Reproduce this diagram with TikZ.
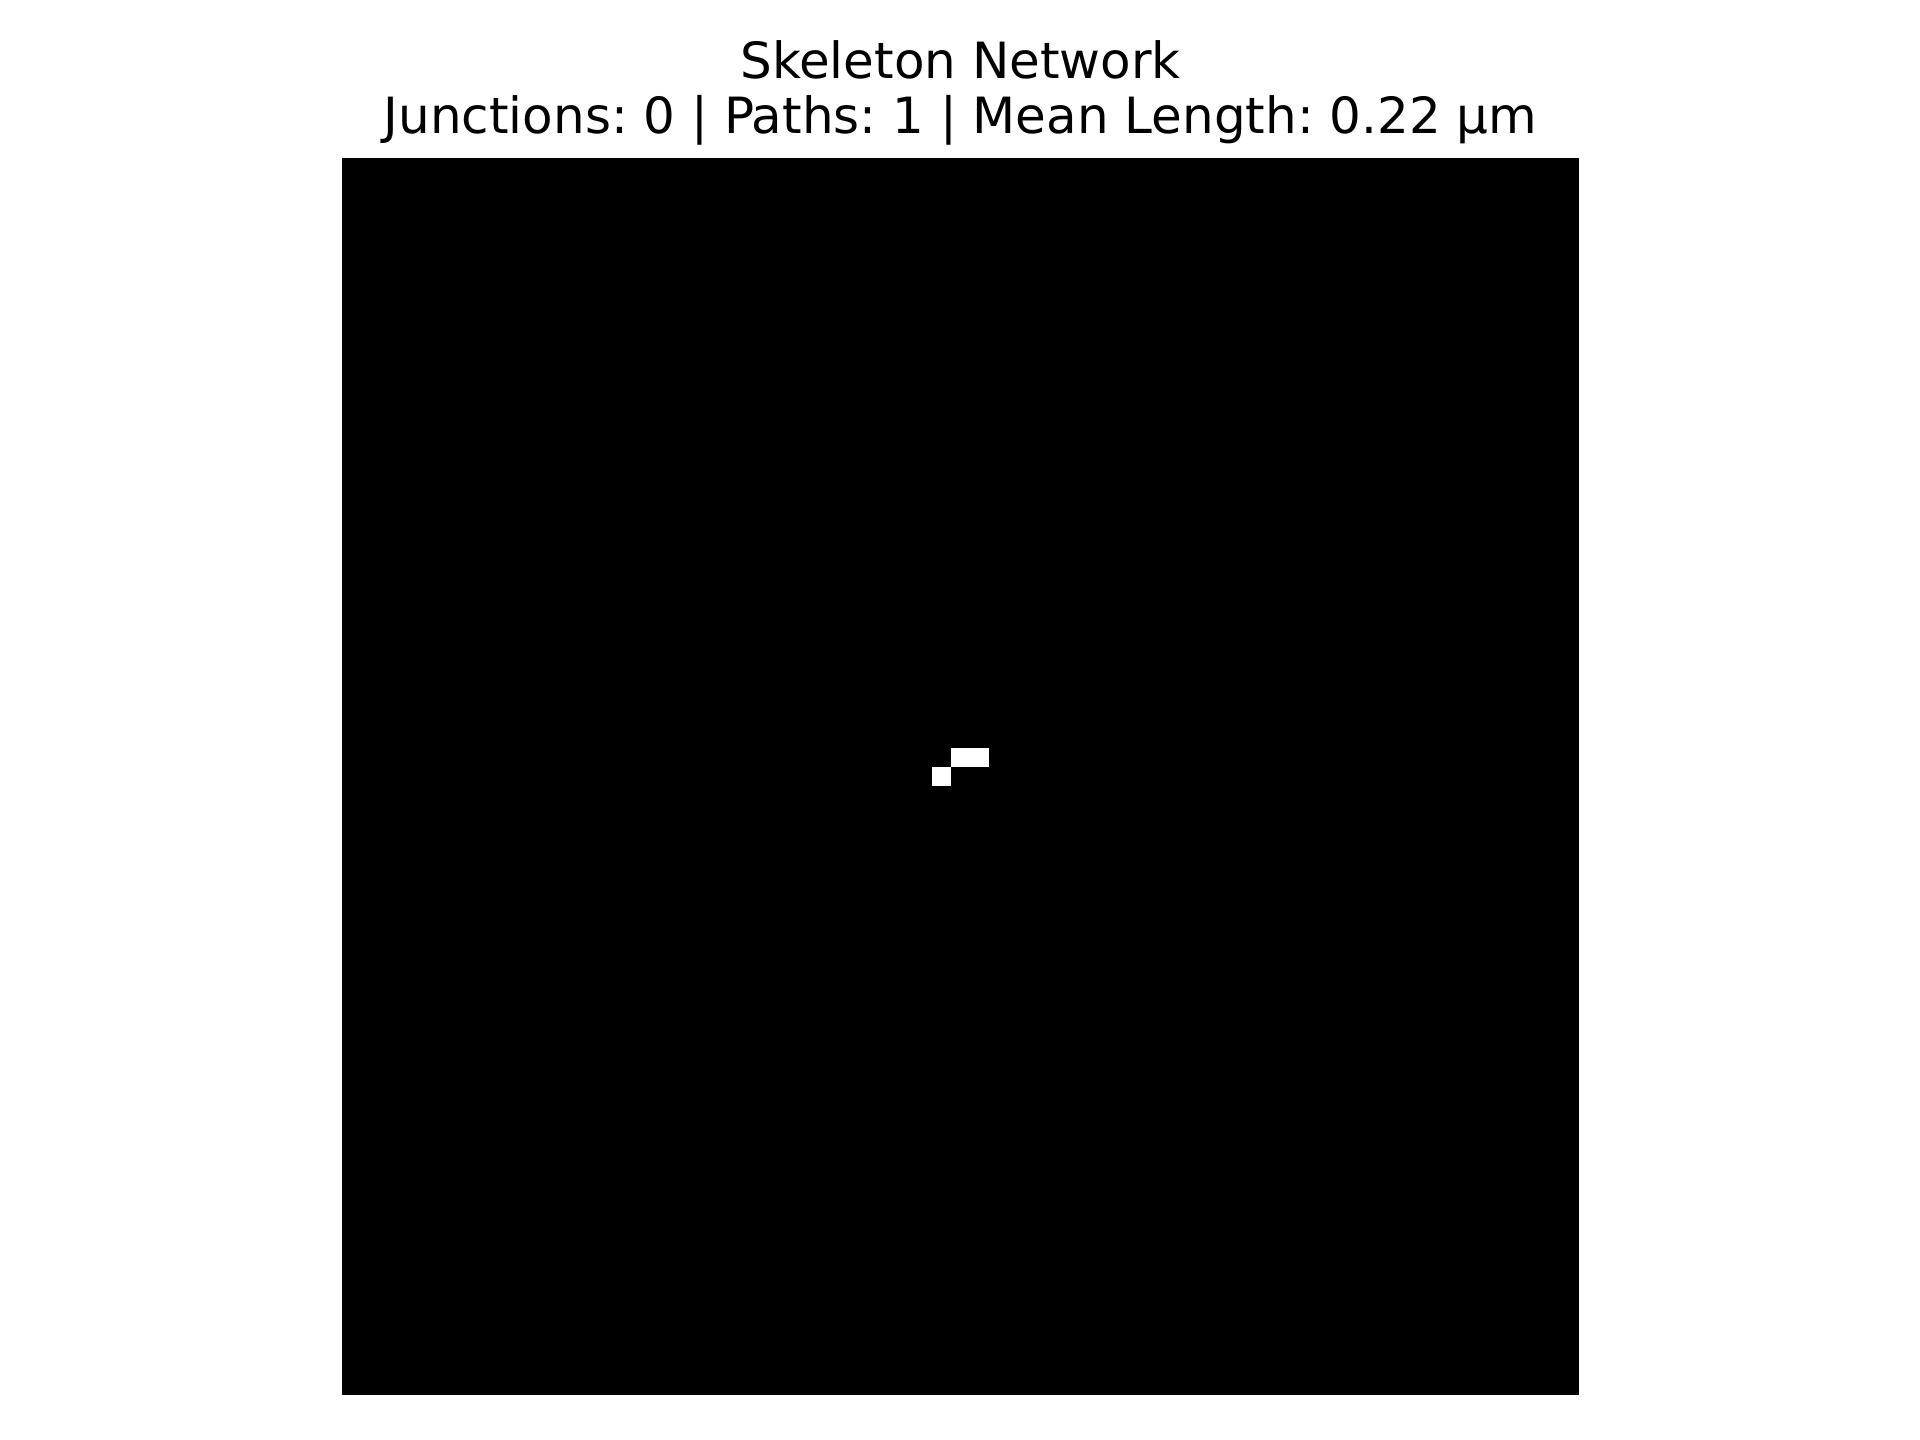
\documentclass[tikz,border=0pt]{standalone}
\usepackage{fontspec}
\setmainfont{DejaVu Sans}
\frenchspacing
\begin{document}
\begin{tikzpicture}[x=0.01cm,y=-0.01cm,
  titletext/.style={font=\fontsize{14.2pt}{17pt}\selectfont, anchor=base, inner sep=0pt},
  skelpix/.style={fill=white, draw=none}]
\useasboundingbox[fill=white] (0,0) rectangle (1920,1440);
\node[titletext] (title1) at (960.5,79) {Skeleton Network};
\node[titletext] (title2) at (960.5,134) {Junctions: 0 | Paths: 1 | Mean Length: 0.22 µm};
\fill[black] (342,158) rectangle (1579,1395);
\begin{scope}[shift={(342,158)}, x=0.1903cm, y=-0.1903cm]
  \fill[skelpix] (32,31) rectangle (34,32);
  \fill[skelpix] (31,32) rectangle (32,33);
\end{scope}
\end{tikzpicture}
\end{document}
